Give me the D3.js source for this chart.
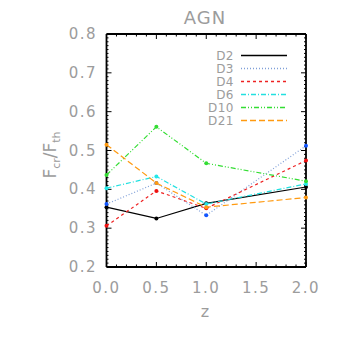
<!DOCTYPE html>
<html>
<head>
<meta charset="utf-8">
<script src="https://cdn.jsdelivr.net/npm/d3@7"></script>
<style>
body { margin: 0; background: #fff; }
text { font-family: "DejaVu Sans", sans-serif; fill: #9c9c9c; }
</style>
</head>
<body>
<svg width="338" height="338"></svg>
<script>
// redshifts and ratios
var zs = [0.0, 0.5, 1.0, 2.0];
var names = ["D2", "D3", "D4", "D6", "D10", "D21"];
var d2  = [0.354, 0.325, 0.364, 0.406];
var d3v = [0.362, 0.416, 0.333, 0.512];
var d4  = [0.306, 0.396, 0.351, 0.474];
var d6  = [0.403, 0.433, 0.362, 0.414];
var d10 = [0.437, 0.561, 0.467, 0.421];
var d21 = [0.515, 0.416, 0.354, 0.379];
var xTicks = [0.0, 0.5, 1.0, 1.5, 2.0];
var yTicks = [0.2, 0.3, 0.4, 0.5, 0.6, 0.7, 0.8];

var colors = ["#000000", "#7f9fd8", "#ee2222", "#22e0e0", "#33dd33", "#ff9a10"];
var ptColors = ["#000000", "#1155ff", "#ee1111", "#22e8e8", "#33dd33", "#ff9a10"];
var dashes = [null, "1,2", "3,3", "5,2,1,2", "5,2,1,2,1,2", "6,3"];
var allVals = [d2, d3v, d4, d6, d10, d21];

var L = 106.5, R = 306, T = 34, B = 267;
var x = d3.scaleLinear().domain([0, 2]).range([L, R]);
var y = d3.scaleLinear().domain([0.2, 0.8]).range([B, T]);

var svg = d3.select("svg");

function seg(x1, y1, x2, y2, w) {
  svg.append("line")
    .attr("x1", x1).attr("y1", y1).attr("x2", x2).attr("y2", y2)
    .attr("stroke", "#000000").attr("stroke-width", w);
}

// frame
seg(L, T, R, T, 1.8);
seg(L, B, R, B, 1.8);
seg(L, T, L, B, 1.8);
seg(R, T, R, B, 1.8);

// ticks on all four sides
d3.range(0, 21).forEach(function(k) {
  var v = k / 10, len = (k % 5 == 0) ? 5 : 2.5;
  seg(x(v), B, x(v), B - len, 1);
  seg(x(v), T, x(v), T + len, 1);
});
d3.range(0, 61).forEach(function(k) {
  var v = 0.2 + k / 100, len = (k % 10 == 0) ? 5 : 2;
  seg(L, y(v), L + len, y(v), 1);
  seg(R, y(v), R - len, y(v), 1);
});

// lines and points
var lineGen = d3.line().x(function(d, i) { return x(zs[i]); }).y(function(d) { return y(d); });
allVals.forEach(function(vals, k) {
  svg.append("path")
    .attr("d", lineGen(vals))
    .attr("fill", "none")
    .attr("stroke", colors[k])
    .attr("stroke-width", 1.2)
    .attr("stroke-dasharray", dashes[k]);
  svg.selectAll(null).data(vals).enter().append("circle")
    .attr("cx", function(d, i) { return x(zs[i]); })
    .attr("cy", function(d) { return y(d); })
    .attr("r", 2)
    .attr("fill", ptColors[k]);
});

// tick labels
svg.selectAll(null).data(xTicks).enter().append("text")
  .attr("x", function(d) { return x(d); })
  .attr("y", 293)
  .attr("text-anchor", "middle")
  .attr("font-size", 15)
  .attr("letter-spacing", 1.5)
  .text(function(d) { return d.toFixed(1); });
svg.selectAll(null).data(yTicks).enter().append("text")
  .attr("x", 97)
  .attr("y", function(d) { return y(d) + 5; })
  .attr("text-anchor", "end")
  .attr("font-size", 15)
  .attr("letter-spacing", 1.5)
  .text(function(d) { return d.toFixed(1); });

// titles
svg.append("text").attr("x", 205).attr("y", 24).attr("text-anchor", "middle")
  .attr("font-size", 18).attr("letter-spacing", 1).text("AGN");
svg.append("text").attr("x", 205).attr("y", 317).attr("text-anchor", "middle")
  .attr("font-size", 16).text("z");
var yl = svg.append("text").attr("transform", "translate(56,155) rotate(-90)")
  .attr("text-anchor", "middle").attr("font-size", 17);
yl.append("tspan").text("F");
yl.append("tspan").attr("font-size", 11).attr("dy", 4).text("cr");
yl.append("tspan").attr("dy", -4).text("/F");
yl.append("tspan").attr("font-size", 11).attr("dy", 4).text("th");

// legend
names.forEach(function(n, i) {
  var ly = 55.5 + i * 13;
  svg.append("text").attr("x", 234).attr("y", ly + 4).attr("text-anchor", "end")
    .attr("font-size", 12).attr("letter-spacing", 0.5).text(n);
  svg.append("line").attr("x1", 241).attr("x2", 287).attr("y1", ly).attr("y2", ly)
    .attr("stroke", colors[i]).attr("stroke-width", 1.3).attr("stroke-dasharray", dashes[i]);
});
</script>
</body>
</html>
